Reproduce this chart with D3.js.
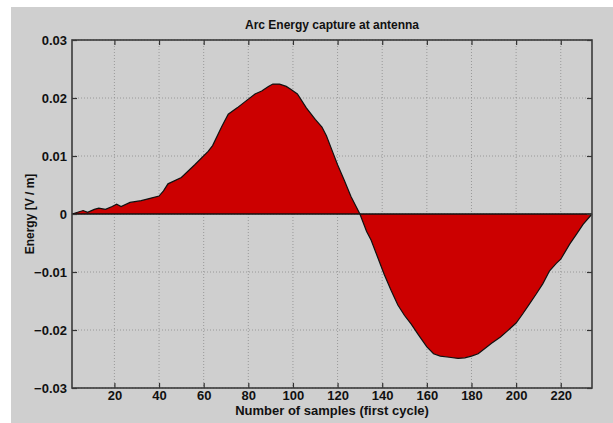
<!DOCTYPE html>
<html>
<head>
<meta charset="utf-8">
<script src="https://cdn.jsdelivr.net/npm/d3@7"></script>
<style>
  body { margin: 0; background: #ffffff; }
  svg { display: block; font-family: "Liberation Sans", Arial, sans-serif; }
</style>
</head>
<body>
<svg id="chart" width="613" height="423"></svg>
<script>
// samples (x) and the field value at each one (y)
const samples = [1, 6, 8, 11, 13, 16, 19, 21, 23, 27, 32, 36, 40, 42, 44, 50, 56, 62, 64, 68, 71, 75, 79, 83, 86, 89, 91, 94, 97, 99, 102, 106, 110, 113, 115, 118, 120, 123, 126, 130,
  133, 135, 138, 141, 144, 147, 150, 153, 156, 160, 163, 166, 170, 174, 177, 180, 183, 186, 189, 193, 196, 200, 203, 206, 209, 212, 215, 218, 220, 224, 227, 230, 234];
const energy = [0, 0.0006, 0.0003, 0.0008, 0.0010, 0.0008, 0.0013, 0.0017, 0.0013, 0.0020, 0.0023, 0.0027, 0.0031, 0.0040, 0.0052, 0.0063, 0.0085, 0.0108, 0.0118, 0.0150, 0.0172, 0.0183, 0.0195, 0.0207, 0.0212, 0.0220, 0.0224, 0.0224, 0.0220, 0.0215, 0.0207, 0.0183, 0.0163, 0.0150, 0.0135, 0.0105, 0.0085, 0.0058, 0.0030, 0,
  -0.0030, -0.0045, -0.0075, -0.0105, -0.0132, -0.0157, -0.0175, -0.0190, -0.0207, -0.0229, -0.0241, -0.0245, -0.0247, -0.0249, -0.0248, -0.0245, -0.0241, -0.0232, -0.0223, -0.0212, -0.0202, -0.0188, -0.0172, -0.0155, -0.0138, -0.0120, -0.0098, -0.0085, -0.0078, -0.0052, -0.0035, -0.0018, 0];

const xTicks = [20, 40, 60, 80, 100, 120, 140, 160, 180, 200, 220];
const yTicks = [-0.03, -0.02, -0.01, 0, 0.01, 0.02, 0.03];

const data = samples.map((s, i) => ({ s: s, v: energy[i] }));

// plot box
const boxL = 72, boxR = 592, boxT = 40, boxB = 388;

const svg = d3.select("#chart");

// grey figure background
svg.append("rect")
  .attr("x", 11).attr("y", 7)
  .attr("width", 602).attr("height", 416)
  .attr("fill", "#cfcfcf");

const xScale = d3.scaleLinear().domain([1, 234]).range([boxL, boxR]);
const yScale = d3.scaleLinear().domain([-0.03, 0.03]).range([boxB, boxT]);

// dotted grid
const grid = svg.append("g").attr("stroke", "#8c8c8c").attr("stroke-width", 0.8).attr("stroke-dasharray", "1,2");
grid.selectAll(".gx").data(xTicks).enter().append("line")
  .attr("x1", d => xScale(d)).attr("x2", d => xScale(d))
  .attr("y1", boxT).attr("y2", boxB);
grid.selectAll(".gy").data(yTicks).enter().append("line")
  .attr("x1", boxL).attr("x2", boxR)
  .attr("y1", d => yScale(d)).attr("y2", d => yScale(d));

// filled area between curve and zero
const area = d3.area()
  .x(d => xScale(d.s))
  .y0(yScale(0))
  .y1(d => yScale(d.v));
svg.append("path").datum(data)
  .attr("d", area)
  .attr("fill", "#cc0000");

const line = d3.line().x(d => xScale(d.s)).y(d => yScale(d.v));
svg.append("path").datum(data)
  .attr("d", line)
  .attr("fill", "none")
  .attr("stroke", "#111")
  .attr("stroke-width", 1.2);

// zero line
svg.append("line")
  .attr("x1", boxL).attr("x2", boxR)
  .attr("y1", yScale(0)).attr("y2", yScale(0))
  .attr("stroke", "#111").attr("stroke-width", 1.3);

// axes (ticks pointing inward)
const xAxis = d3.axisBottom(xScale).tickValues(xTicks).tickSizeInner(-5).tickSizeOuter(0).tickPadding(3);
const yAxis = d3.axisLeft(yScale).tickValues(yTicks).tickSizeInner(-5).tickSizeOuter(0).tickPadding(5)
  .tickFormat(d => d === 0 ? "0" : d3.format(".2f")(d));

const gx = svg.append("g").attr("transform", `translate(0,${boxB})`).call(xAxis);
const gy = svg.append("g").attr("transform", `translate(${boxL},0)`).call(yAxis);
const gxTop = svg.append("g").attr("transform", `translate(0,${boxT})`)
  .call(d3.axisTop(xScale).tickValues(xTicks).tickSizeInner(-5).tickSizeOuter(0).tickFormat(""));
const gyRight = svg.append("g").attr("transform", `translate(${boxR},0)`)
  .call(d3.axisRight(yScale).tickValues(yTicks).tickSizeInner(-5).tickSizeOuter(0).tickFormat(""));

[gx, gy, gxTop, gyRight].forEach(g => {
  g.select(".domain").remove();
  g.selectAll("line").attr("stroke", "#333").attr("stroke-width", 1.2);
  g.selectAll("text")
    .attr("fill", "#111")
    .attr("font-size", "13px")
    .attr("font-weight", "bold")
    .attr("font-family", "'Liberation Sans', Arial, sans-serif");
});

// box around plot
svg.append("rect")
  .attr("x", boxL).attr("y", boxT)
  .attr("width", boxR - boxL).attr("height", boxB - boxT)
  .attr("fill", "none")
  .attr("stroke", "#3a3a3a")
  .attr("stroke-width", 1.6);

// title and axis labels
svg.append("text")
  .attr("x", (boxL + boxR) / 2).attr("y", 29)
  .attr("text-anchor", "middle")
  .attr("font-size", "12px").attr("font-weight", "bold").attr("fill", "#111")
  .text("Arc Energy capture at antenna");

svg.append("text")
  .attr("x", (boxL + boxR) / 2).attr("y", 415)
  .attr("text-anchor", "middle")
  .attr("font-size", "13px").attr("font-weight", "bold").attr("fill", "#111")
  .text("Number of samples (first cycle)");

svg.append("text")
  .attr("transform", `translate(34,${yScale(0)}) rotate(-90)`)
  .attr("text-anchor", "middle")
  .attr("font-size", "12px").attr("font-weight", "bold").attr("fill", "#111")
  .text("Energy [V / m]");
</script>
</body>
</html>
